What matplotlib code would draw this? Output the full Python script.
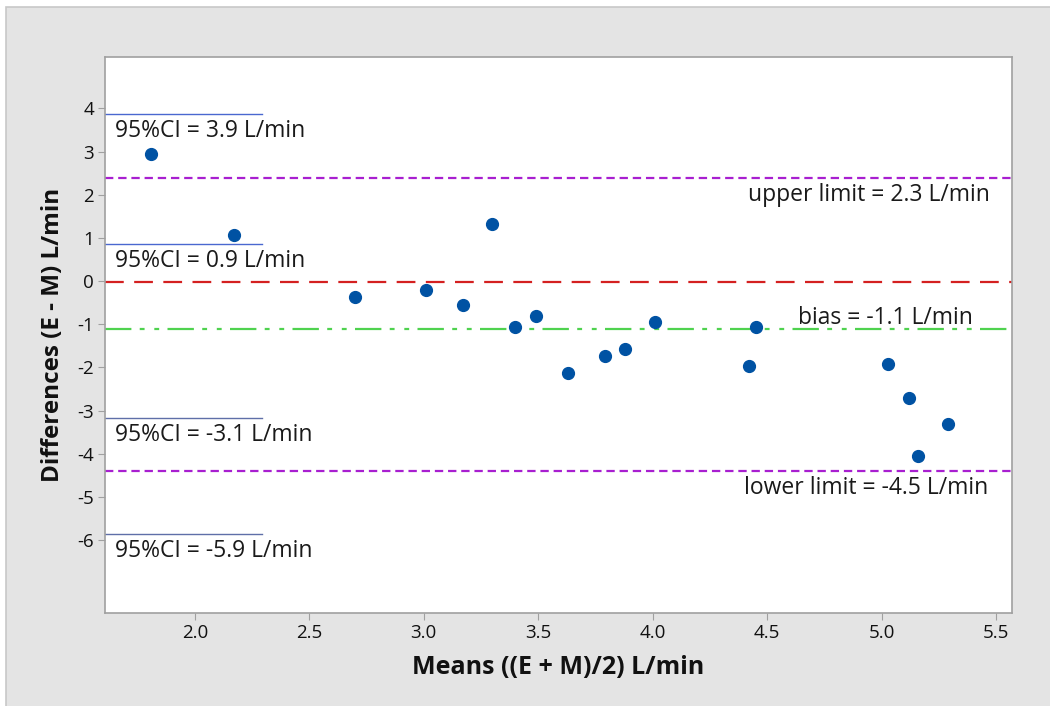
import numpy as np
import matplotlib.pyplot as plt
from matplotlib.patches import Rectangle

plt.rcParams['font.family'] = ['Open Sans', 'DejaVu Sans']
plt.rcParams['lines.scale_dashes'] = False
plt.rcParams['axes.unicode_minus'] = False

# data
means = [1.81, 2.17, 2.70, 3.01, 3.17, 3.30, 3.40, 3.49, 3.63, 3.79, 3.88, 4.01,
         4.42, 4.45, 5.03, 5.12, 5.16, 5.29]
diffs = [2.95, 1.07, -0.37, -0.21, -0.56, 1.32, -1.07, -0.81, -2.13, -1.74, -1.58, -0.95,
         -1.97, -1.07, -1.93, -2.71, -4.06, -3.32]

bias = -1.12
upper = 2.39
lower = -4.39
zero_line = -0.02
ci_lines = [3.87, 0.86, -3.17, -5.85]
ci_labels = ['95%CI = 3.9 L/min', '95%CI = 0.9 L/min',
             '95%CI = -3.1 L/min', '95%CI = -5.9 L/min']

fig = plt.figure(figsize=(10.5, 7.06), dpi=100, facecolor='white')
fig.patches.append(Rectangle((6 / 1050, -0.01), 1.02, 1 - 7 / 706 + 0.01,
                             transform=fig.transFigure, facecolor='#e4e4e4',
                             edgecolor='#c8c8c8', linewidth=1.2, zorder=-10))
ax = fig.add_axes([0.1, 0.1317, 0.8638, 0.7876])
ax.set_zorder(5)
ax.set_facecolor('white')

ax.set_xlim(1.607, 5.57)
ax.set_ylim(-7.69, 5.19)

# CI lines
for yv, lab in zip(ci_lines, ci_labels):
    col = '#4a68d0' if yv > 0 else '#5f6fa8'
    ax.axhline(yv, xmin=0, xmax=0.173, color=col, lw=1.0, zorder=2)
    ax.text(1.65, yv - 0.4, lab, fontsize=16.5, va='center', ha='left', color='#1a1a1a')

ax.axhline(upper, color='#a81fd0', lw=1.6, linestyle=(0, (6, 3.5)), zorder=2)
ax.axhline(lower, color='#a81fd0', lw=1.6, linestyle=(0, (6, 3.5)), zorder=2)
ax.axhline(zero_line, color='#d42020', lw=1.6, linestyle=(0, (13.5, 7.5)), zorder=2)
ax.axhline(bias, color='#4fd24f', lw=1.6,
           linestyle=(0, (19, 6, 3.5, 7, 3.5, 6)), zorder=2)

ax.plot(means, diffs, 'o', color='#0052a3', ms=8.5, zorder=3)

ax.text(5.474, upper - 0.4, 'upper limit = 2.3 L/min', fontsize=16.5, ha='right', va='center', color='#1a1a1a')
ax.text(5.40, bias + 0.27, 'bias = -1.1 L/min', fontsize=16.5, ha='right', va='center', color='#1a1a1a')
ax.text(5.465, lower - 0.41, 'lower limit = -4.5 L/min', fontsize=16.5, ha='right', va='center', color='#1a1a1a')

ax.set_xticks([2.0, 2.5, 3.0, 3.5, 4.0, 4.5, 5.0, 5.5])
ax.set_xticklabels(['2.0', '2.5', '3.0', '3.5', '4.0', '4.5', '5.0', '5.5'])
ax.set_yticks([4, 3, 2, 1, 0, -1, -2, -3, -4, -5, -6])
ax.tick_params(direction='out', length=5, color='#a0a0a0', labelsize=13.5,
               labelcolor='#111111', pad=3)

for s in ax.spines.values():
    s.set_color('#a0a0a0')
    s.set_linewidth(1.2)

ax.set_xlabel('Means ((E + M)/2) L/min', fontsize=18, fontweight='bold', labelpad=9, color='#111111')
ax.set_ylabel('Differences (E - M) L/min', fontsize=17.5, fontweight='bold', labelpad=9, color='#111111')

fig.savefig('out.png', dpi=100)
